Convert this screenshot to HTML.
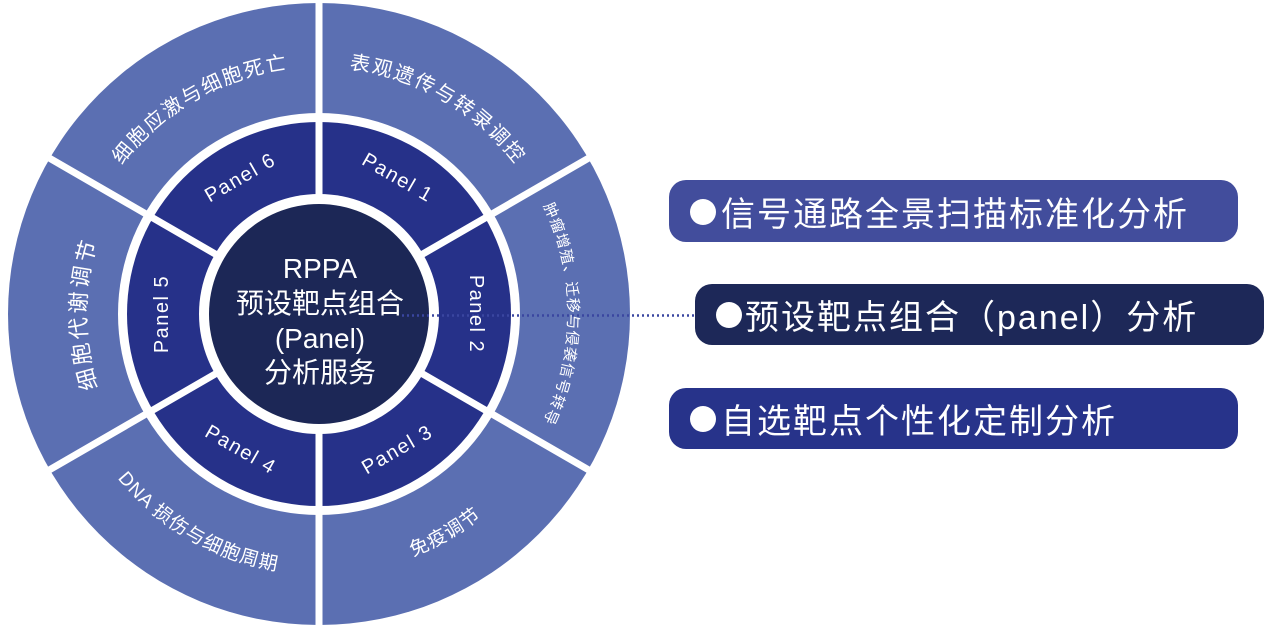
<!DOCTYPE html>
<html><head><meta charset="utf-8"><style>
html,body{margin:0;padding:0;background:#fff;}
body{width:1269px;height:629px;overflow:hidden;}
svg text{font-family:"Liberation Sans","Noto Sans CJK SC",sans-serif;fill:#fff;}
</style></head><body>
<svg width="1269" height="629" viewBox="0 0 1269 629" xmlns="http://www.w3.org/2000/svg">
<defs>
<path id="aTR" d="M319,67 A247 247 0 0 1 532.9,190.5"/>
<path id="aTL" d="M105.1,190.5 A247 247 0 0 1 319,67"/>
<path id="aL" d="M117.2,430.5 A233 233 0 0 1 117.2,197.5"/>
<path id="aR" d="M534.6,189.5 A249 249 0 0 1 534.6,438.5"/>
<path id="aBL" d="M93.8,444 A260 260 0 0 0 319,574"/>
<path id="aBR" d="M319,574 A260 260 0 0 0 544.2,444"/>
</defs>
<circle cx="319" cy="314" r="311" fill="#5b6fb2"/>
<circle cx="319" cy="314" r="201" fill="#fff"/>
<circle cx="319" cy="314" r="192" fill="#263189"/>
<g stroke="#fff" stroke-width="7">
<line x1="319" y1="-5" x2="319" y2="634"/>
<line x1="44" y1="155" x2="594" y2="473"/>
<line x1="44" y1="473" x2="594" y2="155"/>
</g>
<circle cx="319" cy="314" r="120" fill="#fff"/>
<circle cx="319" cy="314" r="110" fill="#1c2756"/>
<line x1="402" y1="315.5" x2="694" y2="315.5" stroke="#3a46a0" stroke-width="2.5" stroke-dasharray="2 3"/>

<g font-size="20" letter-spacing="2">
<text><textPath href="#aTR" startOffset="50%" text-anchor="middle">表观遗传与转录调控</textPath></text>
<text><textPath href="#aTL" startOffset="50%" text-anchor="middle">细胞应激与细胞死亡</textPath></text>
<text font-size="22" letter-spacing="3"><textPath href="#aL" startOffset="50%" text-anchor="middle">细胞代谢调节</textPath></text>
<text font-size="15" letter-spacing="1"><textPath href="#aR" startOffset="50%" text-anchor="middle">肿瘤增殖、迁移与侵袭信号转导</textPath></text>
<text font-size="19" letter-spacing="1"><textPath href="#aBL" startOffset="50%" text-anchor="middle">DNA 损伤与细胞周期</textPath></text>
<text font-size="19" letter-spacing="1"><textPath href="#aBR" startOffset="50%" text-anchor="middle">免疫调节</textPath></text>
</g>

<g font-size="20" letter-spacing="1.5" text-anchor="middle" dominant-baseline="central">
<text transform="translate(397.5,178) rotate(30)">Panel 1</text>
<text transform="translate(476,314) rotate(90)">Panel 2</text>
<text transform="translate(397.5,450) rotate(-30)">Panel 3</text>
<text transform="translate(240.5,450) rotate(30)">Panel 4</text>
<text transform="translate(162,314) rotate(-90)">Panel 5</text>
<text transform="translate(240.5,178) rotate(-30)">Panel 6</text>
</g>

<g text-anchor="middle" font-size="28">
<text x="320" y="278">RPPA</text>
<text x="320" y="313">预设靶点组合</text>
<text x="320" y="348">(Panel)</text>
<text x="320" y="382">分析服务</text>
</g>

<rect x="669" y="180" width="569" height="62" rx="17" fill="#424d9c"/>
<rect x="695" y="284" width="569" height="61" rx="17" fill="#1d2858"/>
<rect x="669" y="388" width="569" height="61" rx="17" fill="#27338a"/>
<circle cx="703" cy="212" r="13" fill="#fff"/>
<circle cx="729" cy="315" r="13" fill="#fff"/>
<circle cx="703" cy="419" r="13" fill="#fff"/>
<g font-size="34" letter-spacing="2">
<text x="721" y="226">信号通路全景扫描标准化分析</text>
<text x="745" y="329">预设靶点组合（panel）分析</text>
<text x="721" y="433">自选靶点个性化定制分析</text>
</g>
</svg>
</body></html>
